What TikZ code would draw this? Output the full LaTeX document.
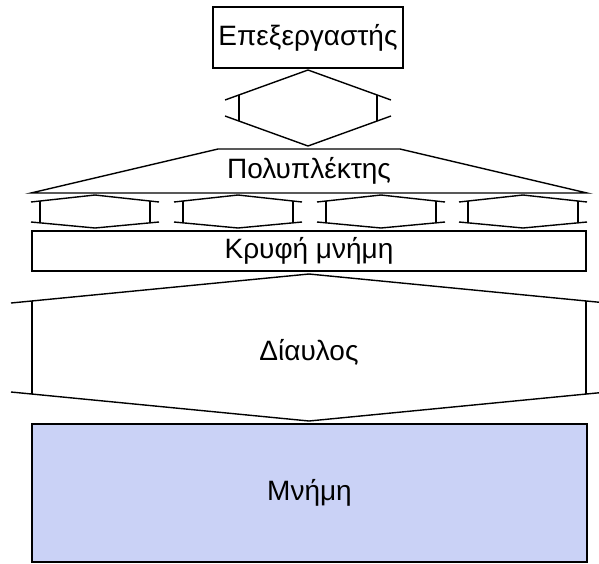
\documentclass[tikz,border=0pt]{standalone}
\usepackage{fontspec}
\setmainfont{Liberation Sans}
\usetikzlibrary{calc}
\definecolor{memfill}{RGB}{202,210,246}
\tikzset{
  line/.style={draw=black, line width=1.4pt, line join=miter},
  box/.style={line, rectangle, inner sep=0pt, font=\fontsize{28}{32}\selectfont},
  lbl/.style={inner sep=0pt, font=\fontsize{28}{32}\selectfont}
}
% bus shape: cx, ytop, ybottom, arm half width, bar half width, arm y upper, arm y lower
\newcommand\drawbusshape[7]{%
  \draw[line] (#1-#4,#6) -- (#1,#2) -- (#1+#4,#6);
  \draw[line] (#1-#4,#7) -- (#1,#3) -- (#1+#4,#7);
  \draw[line] ($(#1,#2)!#5/#4!(#1-#4,#6)$) -- ($(#1,#3)!#5/#4!(#1-#4,#7)$);
  \draw[line] ($(#1,#2)!#5/#4!(#1+#4,#6)$) -- ($(#1,#3)!#5/#4!(#1+#4,#7)$);
}
\begin{document}
\begin{tikzpicture}[x=1pt,y=-1pt]
\useasboundingbox (0,0) rectangle (599,563);
% processor
\node[box, minimum width=190pt, minimum height=61pt] (proc) at (308,37.5) {Επεξεργαστής};
% bus processor - multiplexer
\drawbusshape{308}{70}{146}{83}{69}{100}{116}
% multiplexer
\draw[line] (31,193) -- (218,149) -- (400,149) -- (587,193) -- cycle;
\node[lbl] (mux) at (309,171) {Πολυπλέκτης};
% four small buses
\drawbusshape{95}{195}{228}{64}{55}{202}{222}
\drawbusshape{238}{195}{228}{64}{55}{202}{222}
\drawbusshape{381}{195}{228}{64}{55}{202}{222}
\drawbusshape{523}{195}{228}{64}{55}{202}{222}
% cache
\node[box, minimum width=554pt, minimum height=40pt] (cache) at (309,251) {Κρυφή μνήμη};
% main bus
\drawbusshape{309}{274}{421}{298}{277}{303}{392}
\node[lbl] (bus) at (309,352) {Δίαυλος};
% memory
\node[box, fill=memfill, minimum width=555pt, minimum height=138pt] (mem) at (309.5,493) {Μνήμη};
\end{tikzpicture}
\end{document}
